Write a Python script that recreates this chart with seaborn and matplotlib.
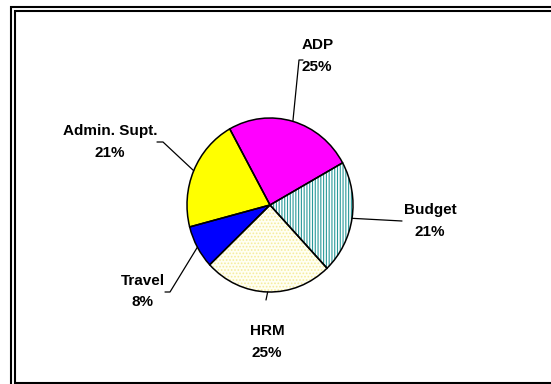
import matplotlib
matplotlib.use('Agg')
import matplotlib.pyplot as plt
import seaborn as sns
import numpy as np

# ---- data ----
labels = ['ADP', 'Budget', 'HRM', 'Travel', 'Admin. Supt.']
values = [25, 21, 25, 8, 21]
pct_labels = ['25%', '21%', '25%', '8%', '21%']

sns.set_theme(style='white')
plt.rcParams['font.family'] = ['Liberation Sans Narrow', 'Liberation Sans', 'DejaVu Sans']
plt.rcParams['hatch.linewidth'] = 0.8

W, H = 551, 384
fig = plt.figure(figsize=(W / 100, H / 100), dpi=100)
fig.patch.set_facecolor('white')

# pie axes: unit radius maps to rx px horizontally, ry px vertically
cx, cy, rx, ry = 270, 205, 83, 87
ax = fig.add_axes([0, 0, 1, 1])
colors = ['#FF00FF', '#FFFFFF', '#FFFFF2', '#0000FF', '#FFFF00']
wedges, _ = ax.pie(values, startangle=119, counterclock=False, colors=colors,
                   wedgeprops=dict(linewidth=0))
# budget: teal vertical stripes
wedges[1].set_hatch('||||||')
wedges[1].set_edgecolor('#2A9A9A')
wedges[1].set_linewidth(0)
# HRM: faint yellow dots
wedges[2].set_hatch('.....')
wedges[2].set_edgecolor('#F6EC9C')
wedges[2].set_linewidth(0)
# outlines
ax.pie(values, startangle=119, counterclock=False,
       wedgeprops=dict(fill=False, edgecolor='black', linewidth=1.1))
ax.set_aspect('auto')
ax.set_xlim(-cx / rx, (W - cx) / rx)
ax.set_ylim(-(H - cy) / ry, cy / ry)
ax.axis('off')

# overlay axes in pixel coords for frame, leaders and labels
ax2 = fig.add_axes([0, 0, 1, 1])
ax2.set_xlim(0, W)
ax2.set_ylim(H, 0)
ax2.axis('off')
ax2.patch.set_alpha(0)

# frame (double lines)
lw = 1.5
ax2.plot([11, 11, W + 5], [H + 5, 7, 7], color='black', lw=lw, solid_joinstyle='miter')
ax2.plot([W + 5, 15, 15, W + 5], [382.5, 382.5, 11, 11], color='black', lw=lw,
         solid_joinstyle='miter')

# leader endpoints (pixels) and label positions
leader_paths = [
    [(299, 60), (303, 60)],
    [(402, 221)],
    [(266, 300)],
    [(170, 292), (165, 292)],
    [(163, 142), (157, 142)],
]
label_pos = [(318, 45), (430, 210), (267, 331), (143, 281), (110, 131)]
pct_pos = [(317, 67), (430, 232), (267, 353), (143, 302), (110, 153)]

for w, path, lab, pct, lp, pp in zip(wedges, leader_paths, labels, pct_labels,
                                      label_pos, pct_pos):
    th = np.deg2rad((w.theta1 + w.theta2) / 2)
    sx = cx + rx * np.cos(th)
    sy = cy - ry * np.sin(th)
    xs = [sx] + [p[0] for p in path]
    ys = [sy] + [p[1] for p in path]
    ax2.plot(xs, ys, color='black', lw=0.9)
    ax2.text(lp[0], lp[1], lab, ha='center', va='center', fontsize=11,
             fontweight='bold', color='black')
    ax2.text(pp[0], pp[1], pct, ha='center', va='center', fontsize=11,
             fontweight='bold', color='black')

fig.savefig('out.png', dpi=100, facecolor='white')
